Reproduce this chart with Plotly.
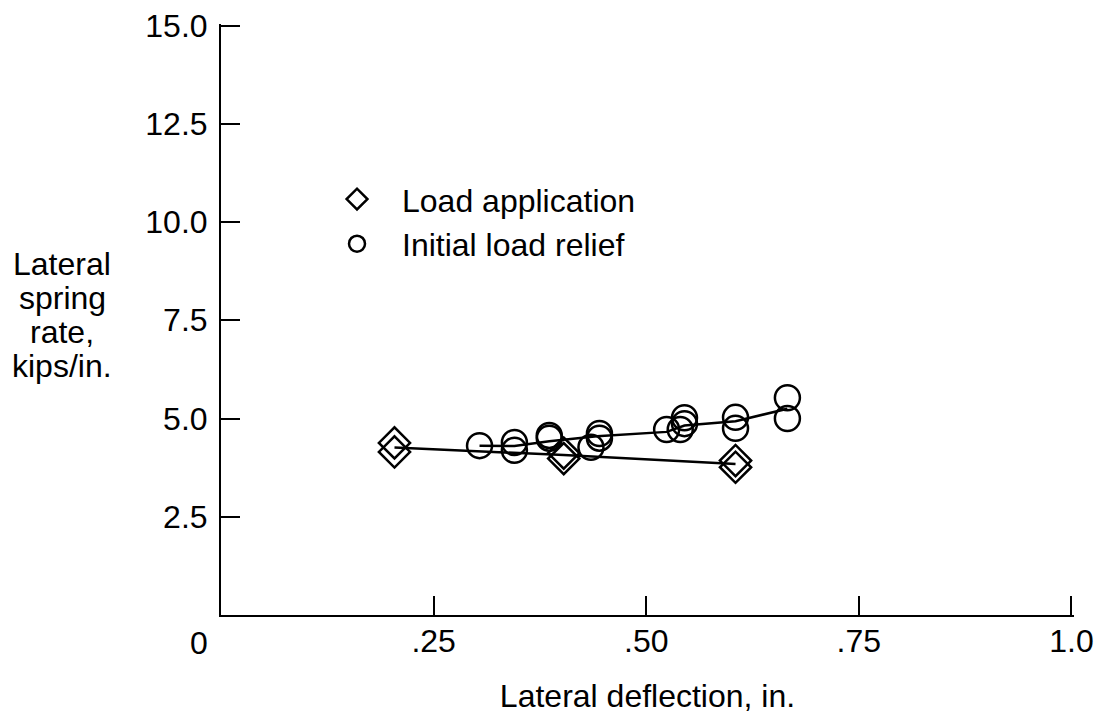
import plotly.graph_objects as go

# Load application (diamonds)
load_x = [0.204, 0.204, 0.403, 0.403, 0.605, 0.605]
load_y = [4.38, 4.15, 4.12, 3.98, 3.93, 3.76]
load_line_x = [0.204, 0.403, 0.605]
load_line_y = [4.26, 4.07, 3.84]

# Initial load relief (circles)
relief_x = [0.304, 0.345, 0.345, 0.386, 0.386, 0.435, 0.445, 0.445,
            0.524, 0.540, 0.545, 0.545, 0.605, 0.605, 0.666, 0.666]
relief_y = [4.31, 4.39, 4.19, 4.57, 4.50, 4.27, 4.50, 4.62,
            4.72, 4.72, 4.87, 5.02, 5.03, 4.75, 5.53, 5.00]
relief_line_x = [0.304, 0.345, 0.386, 0.442, 0.524, 0.545, 0.605, 0.666]
relief_line_y = [4.31, 4.30, 4.42, 4.55, 4.66, 4.82, 4.93, 5.25]

x_tickvals = [0.25, 0.5, 0.75, 1.0]
x_ticktext = [".25", ".50", ".75", "1.0"]
y_tickvals = [2.5, 5.0, 7.5, 10.0, 12.5, 15.0]
y_ticktext = ["2.5", "5.0", "7.5", "10.0", "12.5", "15.0"]
ytitle_lines = ["Lateral", "spring", "rate,", "kips/in."]

FONT = "Liberation Sans, Arial, Helvetica, sans-serif"
FS = 32

fig = go.Figure()
fig.add_trace(go.Scatter(x=load_line_x, y=load_line_y, mode="lines",
                         line=dict(color="black", width=2.5), showlegend=False, hoverinfo="skip"))
fig.add_trace(go.Scatter(x=relief_line_x, y=relief_line_y, mode="lines",
                         line=dict(color="black", width=2.5), showlegend=False, hoverinfo="skip"))
fig.add_trace(go.Scatter(x=load_x, y=load_y, mode="markers", name="Load application",
                         marker=dict(symbol="diamond-open", size=24, color="black",
                                     line=dict(width=2.5, color="black"))))
fig.add_trace(go.Scatter(x=relief_x, y=relief_y, mode="markers", name="Initial load relief",
                         marker=dict(symbol="circle-open", size=25, color="black",
                                     line=dict(width=2.5, color="black"))))

y_centers = [264, 298, 332, 366]
for txt, yc in zip(ytitle_lines, y_centers):
    fig.add_annotation(text=txt, xref="paper", yref="paper",
                       x=(62 - 221) / 853, y=(615 - yc) / 591,
                       xanchor="center", yanchor="middle", showarrow=False,
                       font=dict(family=FONT, size=FS, color="black"))

fig.add_annotation(text="0", xref="x", yref="paper", x=0, y=0, xshift=-22, yshift=-8,
                   xanchor="center", yanchor="top", showarrow=False,
                   font=dict(family=FONT, size=FS, color="black"))

fig.update_layout(
    width=1108, height=719,
    margin=dict(l=221, r=34, t=24, b=104, autoexpand=False),
    paper_bgcolor="white", plot_bgcolor="white",
    font=dict(family=FONT, size=FS, color="black"),
    showlegend=True,
    legend=dict(x=0.1067, y=0.750, xanchor="left", yanchor="top",
                bgcolor="rgba(0,0,0,0)", itemwidth=80,
                font=dict(family=FONT, size=FS, color="black")),
    xaxis=dict(range=[0, 1.003], showgrid=False, zeroline=False, showline=True,
               linecolor="black", linewidth=2, ticks="inside", ticklen=19,
               tickwidth=2, tickcolor="black", tickvals=x_tickvals, ticktext=x_ticktext,
               ticklabelstandoff=-3, automargin=False,
               title=dict(text="Lateral deflection, in.", standoff=26,
                          font=dict(family=FONT, size=FS, color="black"))),
    yaxis=dict(range=[0, 15.04], showgrid=False, zeroline=False, showline=True,
               linecolor="black", linewidth=2, ticks="inside", ticklen=19,
               tickwidth=2, tickcolor="black", tickvals=y_tickvals, ticktext=y_ticktext,
               ticklabelstandoff=5, automargin=False),
)

fig.write_html("out.html")
